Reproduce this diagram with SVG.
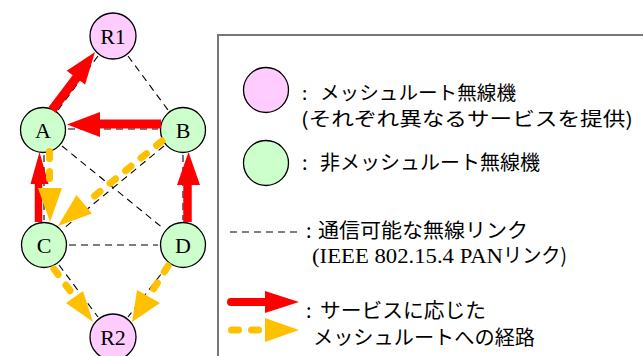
<svg xmlns="http://www.w3.org/2000/svg" width="643" height="356" viewBox="0 0 643 356">
<style>
.node circle{stroke:#000;stroke-width:1.3}
.mesh circle{fill:#FFCCFF}
.plain circle{fill:#CCFFCC}
.lbl{font-family:"Liberation Serif","Times New Roman",serif;font-size:22px;text-anchor:middle;fill:#000}
.link{stroke:#000;stroke-width:1.1;stroke-dasharray:7 5;fill:none}
.red{stroke:#FF0000;fill:none}
.redh{fill:#FF0000}
.yel{stroke:#FFC000;stroke-width:7;stroke-linecap:round;stroke-dasharray:7 13;fill:none}
.yelh{fill:#FFC000}
.jp{font-family:"Noto Sans CJK JP","Noto Sans",sans-serif;font-size:20px;fill:#000}
.jp2{font-family:"Noto Sans CJK JP","Noto Sans",sans-serif;font-size:19px;fill:#000}
.lat{font-family:"Liberation Serif","Times New Roman",serif;font-size:22px;fill:#000}
</style>

<g id="legend-box">
<rect x="218" y="35" width="500" height="400" fill="#fff" stroke="#777" stroke-width="2"/>
</g>

<g id="R1" class="node mesh"><circle cx="113" cy="36" r="23"/><text class="lbl" x="113" y="44">R1</text></g>
<g id="A" class="node plain"><circle cx="43" cy="130" r="22.5"/><text class="lbl" x="43" y="138">A</text></g>
<g id="B" class="node plain"><circle cx="183" cy="130" r="22.5"/><text class="lbl" x="183" y="138">B</text></g>
<g id="C" class="node plain"><circle cx="44" cy="245" r="22.5"/><text class="lbl" x="44" y="253">C</text></g>
<g id="D" class="node plain"><circle cx="183" cy="245" r="22.5"/><text class="lbl" x="183" y="253">D</text></g>
<g id="R2" class="node mesh"><circle cx="113" cy="337" r="23"/><text class="lbl" x="113" y="345">R2</text></g>

<g id="connectors">
<line class="link" x1="98" y1="56" x2="58" y2="110"/>
<line class="link" x1="128" y1="56" x2="168" y2="110"/>
<line class="link" x1="68" y1="129" x2="158" y2="129"/>
<line class="link" x1="44" y1="155" x2="44" y2="220"/>
<line class="link" x1="183" y1="155" x2="183" y2="220"/>
<line class="link" x1="69" y1="245" x2="158" y2="245"/>
<line class="link" x1="62" y1="146" x2="164" y2="229"/>
<line class="link" x1="164" y1="146" x2="63" y2="229"/>
<line class="link" x1="59" y1="265" x2="98" y2="317"/>
<line class="link" x1="168" y1="265" x2="128" y2="317"/>

<!-- red routes -->
<line class="red" stroke-width="9" x1="52" y1="110" x2="77" y2="77"/>
<polygon class="redh" points="95,52 85.1,84.6 66.7,70.8"/>
<line class="red" stroke-width="9" x1="161" y1="124" x2="99" y2="124"/>
<polygon class="redh" points="67,124.5 100,112 100,137"/>
<line class="red" stroke-width="7.5" x1="38.5" y1="222" x2="38.5" y2="182"/>
<polygon class="redh" points="39.5,152 30.5,184 48.5,184"/>
<line class="red" stroke-width="8.5" x1="187.5" y1="222" x2="187.5" y2="184"/>
<polygon class="redh" points="188.5,152 177,185 200,185"/>

<!-- yellow routes -->
<line class="yel" x1="49.5" y1="151.5" x2="49.5" y2="186"/>
<polygon class="yelh" points="38,188 62,188 50,222"/>
<line class="yel" x1="162" y1="141" x2="86" y2="203"/>
<polygon class="yelh" points="58,226 91.9,213.5 76.5,195.1"/>
<line class="yel" x1="54" y1="269" x2="74" y2="296"/>
<polygon class="yelh" points="93,322 66,303 83,291"/>
<line class="yel" x1="168" y1="266" x2="149" y2="296"/>
<polygon class="yelh" points="132,322 137,290 160,303"/>
</g>

<g id="legend">
<circle cx="266" cy="90" r="22.5" fill="#FFCCFF" stroke="#000" stroke-width="1.3"/>
<text class="jp2" x="302" y="100">:</text>
<text class="jp2" x="320" y="100" textLength="196" lengthAdjust="spacingAndGlyphs">メッシュルート無線機</text>
<text class="jp2" x="301" y="126" textLength="332" lengthAdjust="spacingAndGlyphs">(それぞれ異なるサービスを提供)</text>

<circle cx="266" cy="163" r="22.5" fill="#CCFFCC" stroke="#000" stroke-width="1.3"/>
<text class="jp" x="302" y="170">:</text>
<text class="jp" x="320" y="170" textLength="220" lengthAdjust="spacingAndGlyphs">非メッシュルート無線機</text>

<line class="link" x1="230" y1="232" x2="298" y2="232" stroke-dasharray="8 5"/>
<text class="jp" x="306" y="238">:</text>
<text class="jp" x="318" y="238" textLength="210" lengthAdjust="spacingAndGlyphs">通信可能な無線リンク</text>
<text class="lat" x="312" y="263" textLength="191" lengthAdjust="spacingAndGlyphs">(IEEE 802.15.4 PAN</text>
<text class="jp" x="503" y="263" textLength="64" lengthAdjust="spacingAndGlyphs">リンク)</text>

<line x1="231" y1="302" x2="266" y2="302" stroke="#FF0000" stroke-width="8" stroke-linecap="round"/>
<polygon class="redh" points="265,291 299,302 265,313"/>
<line class="yel" x1="231.5" y1="330" x2="262" y2="330" stroke-dasharray="7 15"/>
<polygon class="yelh" points="265,318 299,330 265,342"/>
<text class="jp" x="306" y="318">:</text>
<text class="jp" x="320" y="318" textLength="166" lengthAdjust="spacingAndGlyphs">サービスに応じた</text>
<text class="jp" x="313" y="345" textLength="222" lengthAdjust="spacingAndGlyphs">メッシュルートへの経路</text>
</g>
</svg>
